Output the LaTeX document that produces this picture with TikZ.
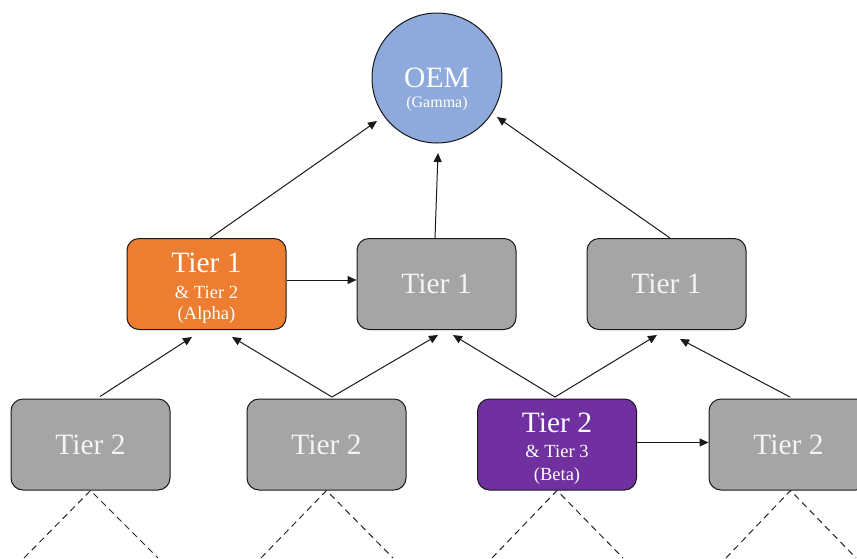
\documentclass[tikz,border=0pt]{standalone}
\usepackage{fontspec}
\setmainfont{Liberation Serif}
\usetikzlibrary{arrows.meta,calc}

\definecolor{oemblue}{HTML}{8EA9DB}
\definecolor{tierorange}{HTML}{ED7D31}
\definecolor{tierpurple}{HTML}{7030A0}
\definecolor{tiergray}{HTML}{A5A5A5}
\definecolor{tiertext}{HTML}{F4F4F4}

\tikzset{
  tierbox/.style={draw=black!90, line width=1pt, rounded corners=12pt,
    minimum width=159pt, minimum height=91pt, inner sep=0pt,
    text=tiertext, font=\fontsize{29.5}{29.5}\selectfont},
  bigtext/.style={anchor=base, text=white, inner sep=0pt, font=\fontsize{29.5}{29.5}\selectfont},
  smalltext/.style={anchor=base, text=white, inner sep=0pt, font=\fontsize{18.5}{18.5}\selectfont},
  tinytext/.style={anchor=base, text=white, inner sep=0pt, font=\fontsize{16}{16}\selectfont},
  link/.style={line width=1pt, draw=black!90, -{Triangle[length=9pt,width=8pt]}},
  branch/.style={line width=1pt, draw=black!85, dash pattern=on 6.5pt off 4.5pt},
}

\begin{document}
\begin{tikzpicture}[x=1pt,y=-1pt]
  \useasboundingbox (0,0) rectangle (857,558);
  \clip (0,0) rectangle (857,558);

  % top customer
  \node[circle, draw=black!90, line width=1pt, fill=oemblue, minimum size=130pt, inner sep=0pt] (oem) at (437,78) {};
  \node[bigtext] (oemname) at ($(oem.center)+(0,9)$) {OEM};
  \node[tinytext] (oemsub) at ($(oem.center)+(0,29)$) {(Gamma)};

  % tier 1 row
  \node[tierbox, fill=tierorange] (t1a) at (206.5,284) {};
  \node[bigtext] (t1aname) at ($(t1a.center)+(0,-12)$) {Tier 1};
  \node[smalltext] (t1aextra) at ($(t1a.center)+(0,14)$) {\& Tier 2};
  \node[smalltext] (t1asub) at ($(t1a.center)+(0,35)$) {(Alpha)};
  \node[tierbox, fill=tiergray] (t1b) at (436.5,284) {Tier 1};
  \node[tierbox, fill=tiergray] (t1c) at (666.5,284) {Tier 1};

  % tier 2 row
  \node[tierbox, fill=tiergray] (t2a) at (90.5,444.5) {Tier 2};
  \node[tierbox, fill=tiergray] (t2b) at (326.5,444.5) {Tier 2};
  \node[tierbox, fill=tierpurple] (t2c) at (557,444.5) {};
  \node[bigtext] (t2cname) at ($(t2c.center)+(0,-12)$) {Tier 2};
  \node[smalltext] (t2cextra) at ($(t2c.center)+(0,13)$) {\& Tier 3};
  \node[smalltext] (t2csub) at ($(t2c.center)+(0,36)$) {(Beta)};
  \node[tierbox, fill=tiergray] (t2d) at (788.5,444.5) {Tier 2};

  % supply links into the OEM
  \draw[link] ($(t1a.north)+(3.5,0)$) -- ($(oem.center)+(-60,43)$);
  \draw[link] ($(t1b.north)+(-1.5,0)$) -- ($(oem.center)+(1,75)$);
  \draw[link] ($(t1c.north)+(3.5,0)$) -- ($(oem.center)+(60,39)$);

  % links within the tier 1 row
  \draw[link] ($(t1a.east)+(0,-4)$) -- ($(t1b.west)+(0,-4)$);

  % links from tier 2 up to tier 1
  \draw[link] ($(t2a.north)+(9.5,-2)$) -- ($(t1a.south)+(-14.5,7)$);
  \draw[link] ($(t2b.north)+(5.5,-1.5)$) -- ($(t1a.south)+(25.5,7)$);
  \draw[link] ($(t2b.north)+(5.5,-1.5)$) -- ($(t1b.south)+(1.5,5)$);
  \draw[link] ($(t2c.north)+(-2,-1.5)$) -- ($(t1b.south)+(16.5,5)$);
  \draw[link] ($(t2c.north)+(-2,-1.5)$) -- ($(t1c.south)+(-9.5,5)$);
  \draw[link] ($(t2d.north)+(1.5,-1.5)$) -- ($(t1c.south)+(13.5,9)$);

  % link within the tier 2 row
  \draw[link] ($(t2c.east)+(0,-2)$) -- ($(t2d.west)+(0,-2)$);

  % further supply branches below tier 2
  \coordinate (a1) at (24,558);  \coordinate (a2) at (158,558);
  \coordinate (b1) at (261,558); \coordinate (b2) at (393,558);
  \coordinate (c1) at (492,558); \coordinate (c2) at (623,558);
  \coordinate (d1) at (726,558); \coordinate (d2) at (856,558);
  \draw[branch] (a1) -- (t2a.south) -- (a2);
  \draw[branch] (b1) -- (t2b.south) -- (b2);
  \draw[branch] (c1) -- (t2c.south) -- (c2);
  \draw[branch] (d1) -- ($(t2d.south)+(2,0)$) -- (d2);
\end{tikzpicture}
\end{document}
